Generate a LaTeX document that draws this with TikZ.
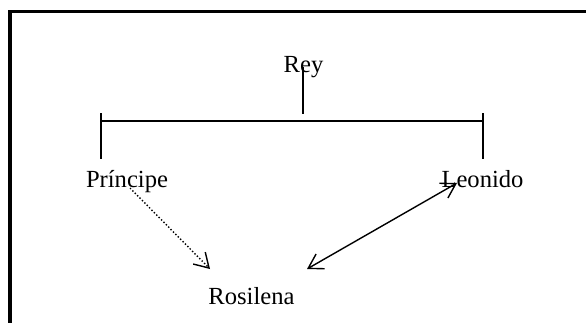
\documentclass[tikz,border=0pt]{standalone}
\usepackage{fontspec}
\setmainfont{Liberation Serif}
\usetikzlibrary{arrows.meta}
\tikzset{openbarb/.tip={Straight Barb[length=14pt,width=17pt,line width=1.4pt]}}
\begin{document}
\begin{tikzpicture}[x=1pt,y=-1pt,
  label/.style={inner sep=0pt,anchor=base,font=\fontsize{24.6}{29}\selectfont},
  treeline/.style={line width=1.6pt},
  link/.style={line width=1.4pt},
  frame/.style={line width=3.5pt}]
  \useasboundingbox (0,0) rectangle (586,322);
  \clip (0,0) rectangle (586,322);

  % outer frame (runs off the right and bottom edges)
  \draw[frame] (10,11.5) rectangle (620,360);

  % names
  \node[label] (rey) at (303.5,72) {Rey};
  \node[label] (prin) at (127,187) {Príncipe};
  \node[label] (leo) at (482.5,187) {Leonido};
  \node[label] (ros) at (251.5,304) {Rosilena};

  % family tree bracket
  \coordinate (stemtop) at (303,67);
  \coordinate (stembot) at (303,114);
  \coordinate (barl) at (101,121);
  \coordinate (barr) at (483,121);
  \coordinate (legl) at (101,159);
  \coordinate (legr) at (483,159);
  \draw[treeline] (stemtop) -- (stembot);
  \draw[treeline] (barl) -- (barr);
  \draw[treeline] ([yshift=8pt]barl) -- (legl);
  \draw[treeline] ([yshift=8pt]barr) -- (legr);

  % relations
  \coordinate (prinout) at (130,188);
  \coordinate (rosinl) at (210,269);
  \coordinate (rosinr) at (307,269);
  \coordinate (leoin) at (457,183);
  \draw[link,dotted,-openbarb] (prinout) -- (rosinl);
  \draw[link,openbarb-openbarb] (rosinr) -- (leoin);
\end{tikzpicture}
\end{document}
